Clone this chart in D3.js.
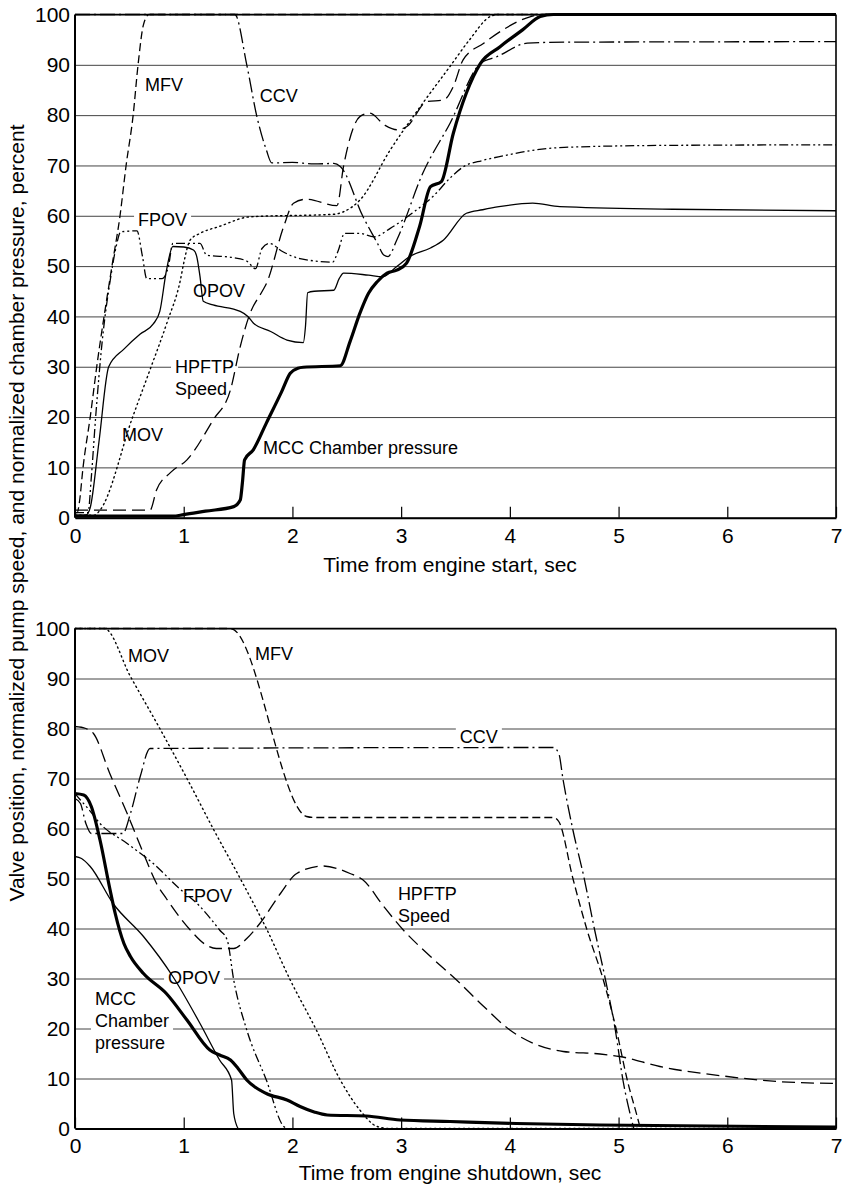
<!DOCTYPE html>
<html>
<head>
<meta charset="utf-8">
<script src="https://cdn.jsdelivr.net/npm/d3@7"></script>
<style>
  body { margin: 0; background: #fff; }
  svg { display: block; font-family: "Liberation Sans", Arial, Helvetica, sans-serif; }
</style>
</head>
<body>
<svg width="842" height="1185"></svg>
<script>
// ---- data: [time sec, percent] ----
const xTicks = [0, 1, 2, 3, 4, 5, 6, 7];
const yTicks = [0, 10, 20, 30, 40, 50, 60, 70, 80, 90, 100];

// engine start
const startMFV = [[0,1],[0.02,1],[0.04,3],[0.074,10],[0.14,20],[0.2,30],[0.34,50],[0.414,60],[0.47,70],[0.535,80],[0.58,90],[0.63,98],[0.68,100],[7,100]];
const startFPOV = [[0,1],[0.12,1],[0.15,8],[0.19,20],[0.25,35],[0.33,48],[0.38,54],[0.42,56.8],[0.57,57],[0.62,52],[0.66,47.5],[0.8,47.5],[0.86,50],[0.9,54.5],[1.15,54.5],[1.21,52.2],[1.45,51.7],[1.58,51],[1.66,49.5],[1.72,53.5],[1.79,54.5],[1.9,53],[2.07,51.5],[2.37,50.8],[2.42,53],[2.48,56.5],[2.62,56.5],[2.75,55.8],[2.9,57.5],[3.1,60.5],[3.3,64],[3.45,67.5],[3.57,69.7],[3.75,71],[3.94,71.9],[4.21,73],[4.5,73.6],[5.5,74],[7,74.1]];
const startOPOV = [[0,0.5],[0.1,0.5],[0.14,2],[0.22,15],[0.31,30],[0.45,33.5],[0.6,36.5],[0.72,38.5],[0.78,41],[0.84,49],[0.9,53.9],[1.0,53.8],[1.09,53.2],[1.12,51.9],[1.15,47.9],[1.18,43],[1.27,42.3],[1.52,41],[1.59,40],[1.64,38.7],[1.8,37],[1.95,35.3],[2.1,34.8],[2.12,38],[2.14,44.7],[2.2,45],[2.38,45.2],[2.43,47.5],[2.47,48.6],[2.7,48.2],[2.83,47.9],[2.96,49.9],[3.08,51.9],[3.27,53.6],[3.39,55.2],[3.6,60.5],[3.75,61.2],[3.9,61.8],[4.21,62.5],[4.46,61.8],[5.5,61.3],[7,61]];
const startMOV = [[0,0.5],[0.18,0.5],[0.23,1.5],[0.53,20],[0.7,30],[0.85,39],[0.97,47.3],[1.0,50.6],[1.06,55.2],[1.15,56.5],[1.33,57.9],[1.61,59.8],[2.38,60.3],[2.47,60.8],[2.62,63.1],[2.9,73.1],[3.2,82.4],[3.45,89.7],[3.63,95],[3.82,99.6],[3.9,100],[7,100]];
const startHPFTP = [[0,1.5],[0.69,1.5],[0.75,5.5],[0.88,9],[1.03,11.5],[1.27,19.4],[1.43,25.4],[1.52,34],[1.6,40],[1.73,45.3],[1.76,46.5],[1.92,57.9],[2.01,62.5],[2.13,63.3],[2.41,62],[2.47,69.8],[2.62,79.7],[2.71,80.4],[2.85,78],[2.96,77.1],[3.05,77.7],[3.24,82.7],[3.39,83],[3.48,85.7],[3.57,91],[3.76,94.3],[3.94,97],[4.15,99.3],[4.3,100],[7,100]];
const startCCV = [[0,100],[1.47,100],[1.58,90],[1.67,80],[1.76,73.1],[1.81,70.5],[2.0,70.6],[2.2,70.3],[2.38,70.4],[2.44,69.8],[2.65,59.8],[2.78,54.6],[2.84,52.2],[2.88,51.9],[2.96,55.2],[3.2,68.5],[3.45,78.4],[3.73,90.3],[3.88,91.6],[4.16,94.3],[4.5,94.5],[7,94.6]];
const startMCC = [[0,0.3],[0.9,0.3],[1.0,0.6],[1.2,1.3],[1.46,2.2],[1.52,3.5],[1.54,7],[1.56,11.5],[1.64,13.5],[1.76,18.8],[1.9,25],[1.98,28.7],[2.05,29.7],[2.1,29.9],[2.44,30.2],[2.53,35],[2.62,40.6],[2.7,44.6],[2.78,46.9],[2.87,48.6],[2.96,49.2],[3.05,50.6],[3.17,57.9],[3.27,65.8],[3.37,66.8],[3.48,76.4],[3.6,84.4],[3.73,90.3],[3.91,93.6],[4.12,97],[4.28,99.6],[4.4,100],[7,100]];

// engine shutdown
const stopMOV = [[0,100],[0.27,100],[0.51,90.4],[0.78,80],[1.03,70],[1.27,60],[1.52,50],[1.76,40],[1.98,29.7],[2.22,19.7],[2.44,9.7],[2.62,3.7],[2.78,0.4],[2.9,0],[7,0]];
const stopMFV = [[0,100],[1.43,100],[2.13,62.4],[2.2,62.2],[4.4,62.2],[4.45,61.4],[4.58,50],[4.71,39.7],[4.86,29.7],[4.98,19.7],[5.08,9.7],[5.18,1.7],[5.2,0]];
const stopCCV = [[0,66],[0.05,65],[0.1,61],[0.15,59],[0.44,59],[0.51,63],[0.6,70.4],[0.69,76],[4.4,76.2],[4.45,75],[4.49,69.7],[4.58,59.7],[4.68,50.4],[4.78,39.7],[4.88,29.7],[4.97,19.7],[5.04,9.7],[5.12,1.7],[5.14,0]];
const stopHPFTP = [[0,80.4],[0.1,80],[0.17,79],[0.32,71],[0.48,63],[0.63,55],[0.75,49],[0.84,46],[1.06,39.7],[1.2,36.8],[1.3,36],[1.46,36],[1.58,38],[1.7,41],[1.89,47],[2.04,51],[2.28,52.5],[2.53,51],[2.65,49.7],[2.84,44.4],[3.02,39.7],[3.27,34.4],[3.51,29.7],[3.76,24.4],[4.0,19.7],[4.22,17],[4.49,15.4],[4.83,14.9],[5.01,14.4],[5.38,12.4],[6.0,10.4],[6.46,9.4],[7,9]];
const stopMCC = [[0,67],[0.08,66.7],[0.15,64.4],[0.23,57.7],[0.32,48],[0.37,43],[0.45,37],[0.51,34.4],[0.63,31],[0.84,27],[1.03,21.7],[1.24,15.7],[1.33,14.7],[1.43,13.7],[1.5,12],[1.58,9.7],[1.76,7],[1.95,5.7],[2.07,4.4],[2.2,3.3],[2.32,2.7],[2.68,2.5],[2.99,1.7],[3.45,1.4],[4.06,1],[4.83,0.7],[7,0.3]];
const stopOPOV = [[0,54.4],[0.06,54],[0.14,52.4],[0.35,45],[0.63,38.4],[0.9,30.4],[1.15,21],[1.33,13.7],[1.44,9.7],[1.46,3],[1.5,0]];
const stopFPOV = [[0,67],[0.05,65.7],[0.12,64],[0.23,61],[0.48,57],[0.72,53],[0.94,48.4],[1.15,44.4],[1.33,39.7],[1.4,37.7],[1.46,29.7],[1.58,19.7],[1.76,9.7],[1.92,0.4],[1.95,0]];

// labels: [text lines, t, v, white box]
const startLabels = [
  [["MFV"], 0.644, 86, false],
  [["CCV"], 1.70, 83.8, false],
  [["FPOV"], 0.58, 59.2, true],
  [["OPOV"], 1.086, 45.1, false],
  [["HPFTP", "Speed"], 0.92, 30, true],
  [["MOV"], 0.432, 16.4, false],
  [["MCC Chamber pressure"], 1.73, 13.9, false]
];
const stopLabels = [
  [["MOV"], 0.488, 94.5, false],
  [["MFV"], 1.656, 94.9, false],
  [["CCV"], 3.54, 78.3, true],
  [["HPFTP", "Speed"], 2.97, 46.9, false],
  [["FPOV"], 0.994, 46.5, false],
  [["OPOV"], 0.856, 30.1, true],
  [["MCC", "Chamber", "pressure"], 0.184, 25.9, true]
];

const styles = {
  MFV:   {w: 1.3, dash: "8,4"},
  FPOV:  {w: 1.3, dash: "9,3,2,3,2,3"},
  OPOV:  {w: 1.3, dash: null},
  MOV:   {w: 1.4, dash: "1.3,3.5"},
  HPFTP: {w: 1.3, dash: "13,6"},
  CCV:   {w: 1.3, dash: "15,4,2,4"},
  MCC:   {w: 3.2, dash: null}
};

const svg = d3.select("svg");
const x = d3.scaleLinear().domain([0, 7]).range([75, 836]);

function panel(yTop, yBottom, series, labels, title, titleY) {
  const y = d3.scaleLinear().domain([0, 100]).range([yBottom, yTop]);
  const g = svg.append("g");

  // grid
  g.append("g")
    .attr("transform", "translate(75,0)")
    .call(d3.axisLeft(y).tickValues(yTicks).tickSize(-(836 - 75)).tickFormat(""))
    .call(s => s.select(".domain").remove())
    .selectAll("line").attr("stroke", "#444").attr("stroke-width", 1);

  // y tick labels
  g.append("g")
    .attr("transform", "translate(75,0)")
    .call(d3.axisLeft(y).tickValues(yTicks).tickSize(0).tickPadding(5))
    .call(s => s.select(".domain").remove())
    .selectAll("text").attr("font-size", 21).attr("font-family", null).attr("fill", "#000");

  const bgLayer = g.append("g");
  const lineLayer = g.append("g");
  const textLayer = g.append("g");

  const line = d3.line().x(d => x(d[0])).y(d => y(d[1])).curve(d3.curveMonotoneX);
  Object.entries(series).forEach(([k, data]) => {
    const st = styles[k];
    lineLayer.append("path")
      .attr("d", line(data))
      .attr("fill", "none")
      .attr("stroke", "#000")
      .attr("stroke-width", st.w)
      .attr("stroke-dasharray", st.dash)
      .attr("stroke-linecap", k === "MOV" ? "round" : "butt")
      .attr("stroke-linejoin", "round");
  });

  // frame
  g.append("line").attr("x1", 836).attr("x2", 836).attr("y1", yTop).attr("y2", yBottom)
    .attr("stroke", "#000").attr("stroke-width", 1.6);
  g.append("line").attr("x1", 75).attr("x2", 836).attr("y1", yTop).attr("y2", yTop)
    .attr("stroke", "#000").attr("stroke-width", 1.6);
  g.append("line").attr("x1", 75).attr("x2", 75).attr("y1", yTop).attr("y2", yBottom)
    .attr("stroke", "#000").attr("stroke-width", 2);

  // x axis
  const xa = g.append("g")
    .attr("transform", `translate(0,${yBottom})`)
    .call(d3.axisBottom(x).tickValues(xTicks).tickFormat(d3.format("d"))
      .tickSizeInner(-11).tickSizeOuter(0).tickPadding(10));
  xa.select(".domain").attr("stroke-width", 2);
  xa.selectAll("line").attr("stroke-width", 1.2);
  xa.selectAll("text").attr("font-size", 21).attr("font-family", null).attr("fill", "#000");

  // series labels
  labels.forEach(([lines, t, v, bg]) => {
    const tx = textLayer.append("text")
      .attr("x", x(t)).attr("y", y(v))
      .attr("font-size", 18);
    lines.forEach((s, i) => {
      tx.append("tspan").attr("x", x(t)).attr("dy", i === 0 ? "0.35em" : "1.2em").text(s);
    });
    if (bg) {
      const b = tx.node().getBBox();
      bgLayer.append("rect")
        .attr("x", b.x - 4).attr("y", b.y - 1)
        .attr("width", b.width + 8).attr("height", b.height + 2)
        .attr("fill", "#fff");
    }
  });

  svg.append("text")
    .attr("x", 450).attr("y", titleY)
    .attr("text-anchor", "middle")
    .attr("font-size", 21)
    .text(title);
}

panel(14.5, 517.7,
  {MFV: startMFV, FPOV: startFPOV, OPOV: startOPOV, MOV: startMOV, HPFTP: startHPFTP, CCV: startCCV, MCC: startMCC},
  startLabels, "Time from engine start, sec", 572);

panel(628.5, 1128.5,
  {MOV: stopMOV, MFV: stopMFV, CCV: stopCCV, HPFTP: stopHPFTP, OPOV: stopOPOV, FPOV: stopFPOV, MCC: stopMCC},
  stopLabels, "Time from engine shutdown, sec", 1180);

svg.append("text")
  .attr("transform", "translate(24,513) rotate(-90)")
  .attr("text-anchor", "middle")
  .attr("font-size", 21)
  .text("Valve position, normalized pump speed, and normalized chamber pressure, percent");
</script>
</body>
</html>
